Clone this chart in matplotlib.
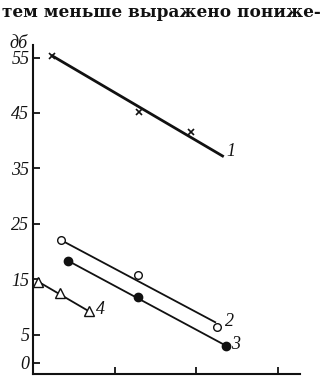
import matplotlib

matplotlib.use("Agg")
import matplotlib.pyplot as plt  # noqa: E402

# measured points (x in tick units, y in dB)
x1 = [0.23, 1.30, 1.93]
y1 = [55.3, 45.2, 41.6]
x2 = [0.337, 1.286, 2.255]
y2 = [22.1, 15.8, 6.4]
x3 = [0.42, 1.286, 2.358]
y3 = [18.4, 11.9, 3.1]
x4 = [0.059, 0.33, 0.677]
y4 = [14.6, 12.5, 9.3]

# fitted lines (end points)
fit1_x, fit1_y = [0.23, 2.32], [55.3, 37.25]
fit2_x, fit2_y = [0.337, 2.23], [22.1, 7.3]
fit3_x, fit3_y = [0.42, 2.358], [18.4, 3.1]
fit4_x, fit4_y = [0.059, 0.677], [14.6, 9.3]

labels = ["1", "2", "3", "4"]
label_pos = [(2.42, 38.0), (2.41, 7.5), (2.48, 3.2), (0.82, 9.5)]

y_ticks = [0, 5, 15, 25, 35, 45, 55]
x_ticks = [1, 2, 3]

INK = "#111111"
SERIF_I = dict(family="Liberation Serif", style="italic", color=INK)

fig = plt.figure(figsize=(3.23, 3.77), dpi=100)
fig.text(0.5, 0.968, "тем меньше выражено пониже-", ha="center", va="center",
         family="DejaVu Serif", fontsize=12.2, fontweight="bold", color=INK)

ax = fig.add_axes([0.1037, 0.008, 0.825, 0.8726])
ax.set_xlim(0, 3.27)
ax.set_ylim(-2.03, 57.25)

ax.plot(fit1_x, fit1_y, color=INK, lw=2.0)
ax.plot(fit2_x, fit2_y, color=INK, lw=1.3)
ax.plot(fit3_x, fit3_y, color=INK, lw=1.3)
ax.plot(fit4_x, fit4_y, color=INK, lw=1.3)

ax.plot(x1, y1, ls="none", marker="x", ms=4, mew=1.2, color=INK)
ax.plot(x2, y2, ls="none", marker="o", ms=5.5, mew=1.0, mfc="white", mec=INK)
ax.plot(x3, y3, ls="none", marker="o", ms=6, color=INK)
ax.plot(x4, y4, ls="none", marker="^", ms=6.5, mew=1.0, mfc="white", mec=INK)

for lab, (lx, ly) in zip(labels, label_pos):
    ax.text(lx, ly, lab, fontsize=13, ha="center", va="center", **SERIF_I)

for side in ("top", "right"):
    ax.spines[side].set_visible(False)
for side in ("left", "bottom"):
    ax.spines[side].set_linewidth(1.5)
    ax.spines[side].set_color(INK)

ax.set_yticks(y_ticks)
ax.set_yticklabels([str(v) for v in y_ticks], **SERIF_I, fontsize=13)
ax.set_xticks(x_ticks)
ax.set_xticklabels([])
ax.tick_params(axis="y", direction="in", length=5, width=1.3, pad=3, colors=INK)
ax.tick_params(axis="x", direction="in", length=5, width=1.3, colors=INK)

fig.text(19 / 323, 1 - 43 / 377, "дб", ha="center", va="center",
         fontsize=13, **SERIF_I)

fig.savefig("out.png", dpi=100)
